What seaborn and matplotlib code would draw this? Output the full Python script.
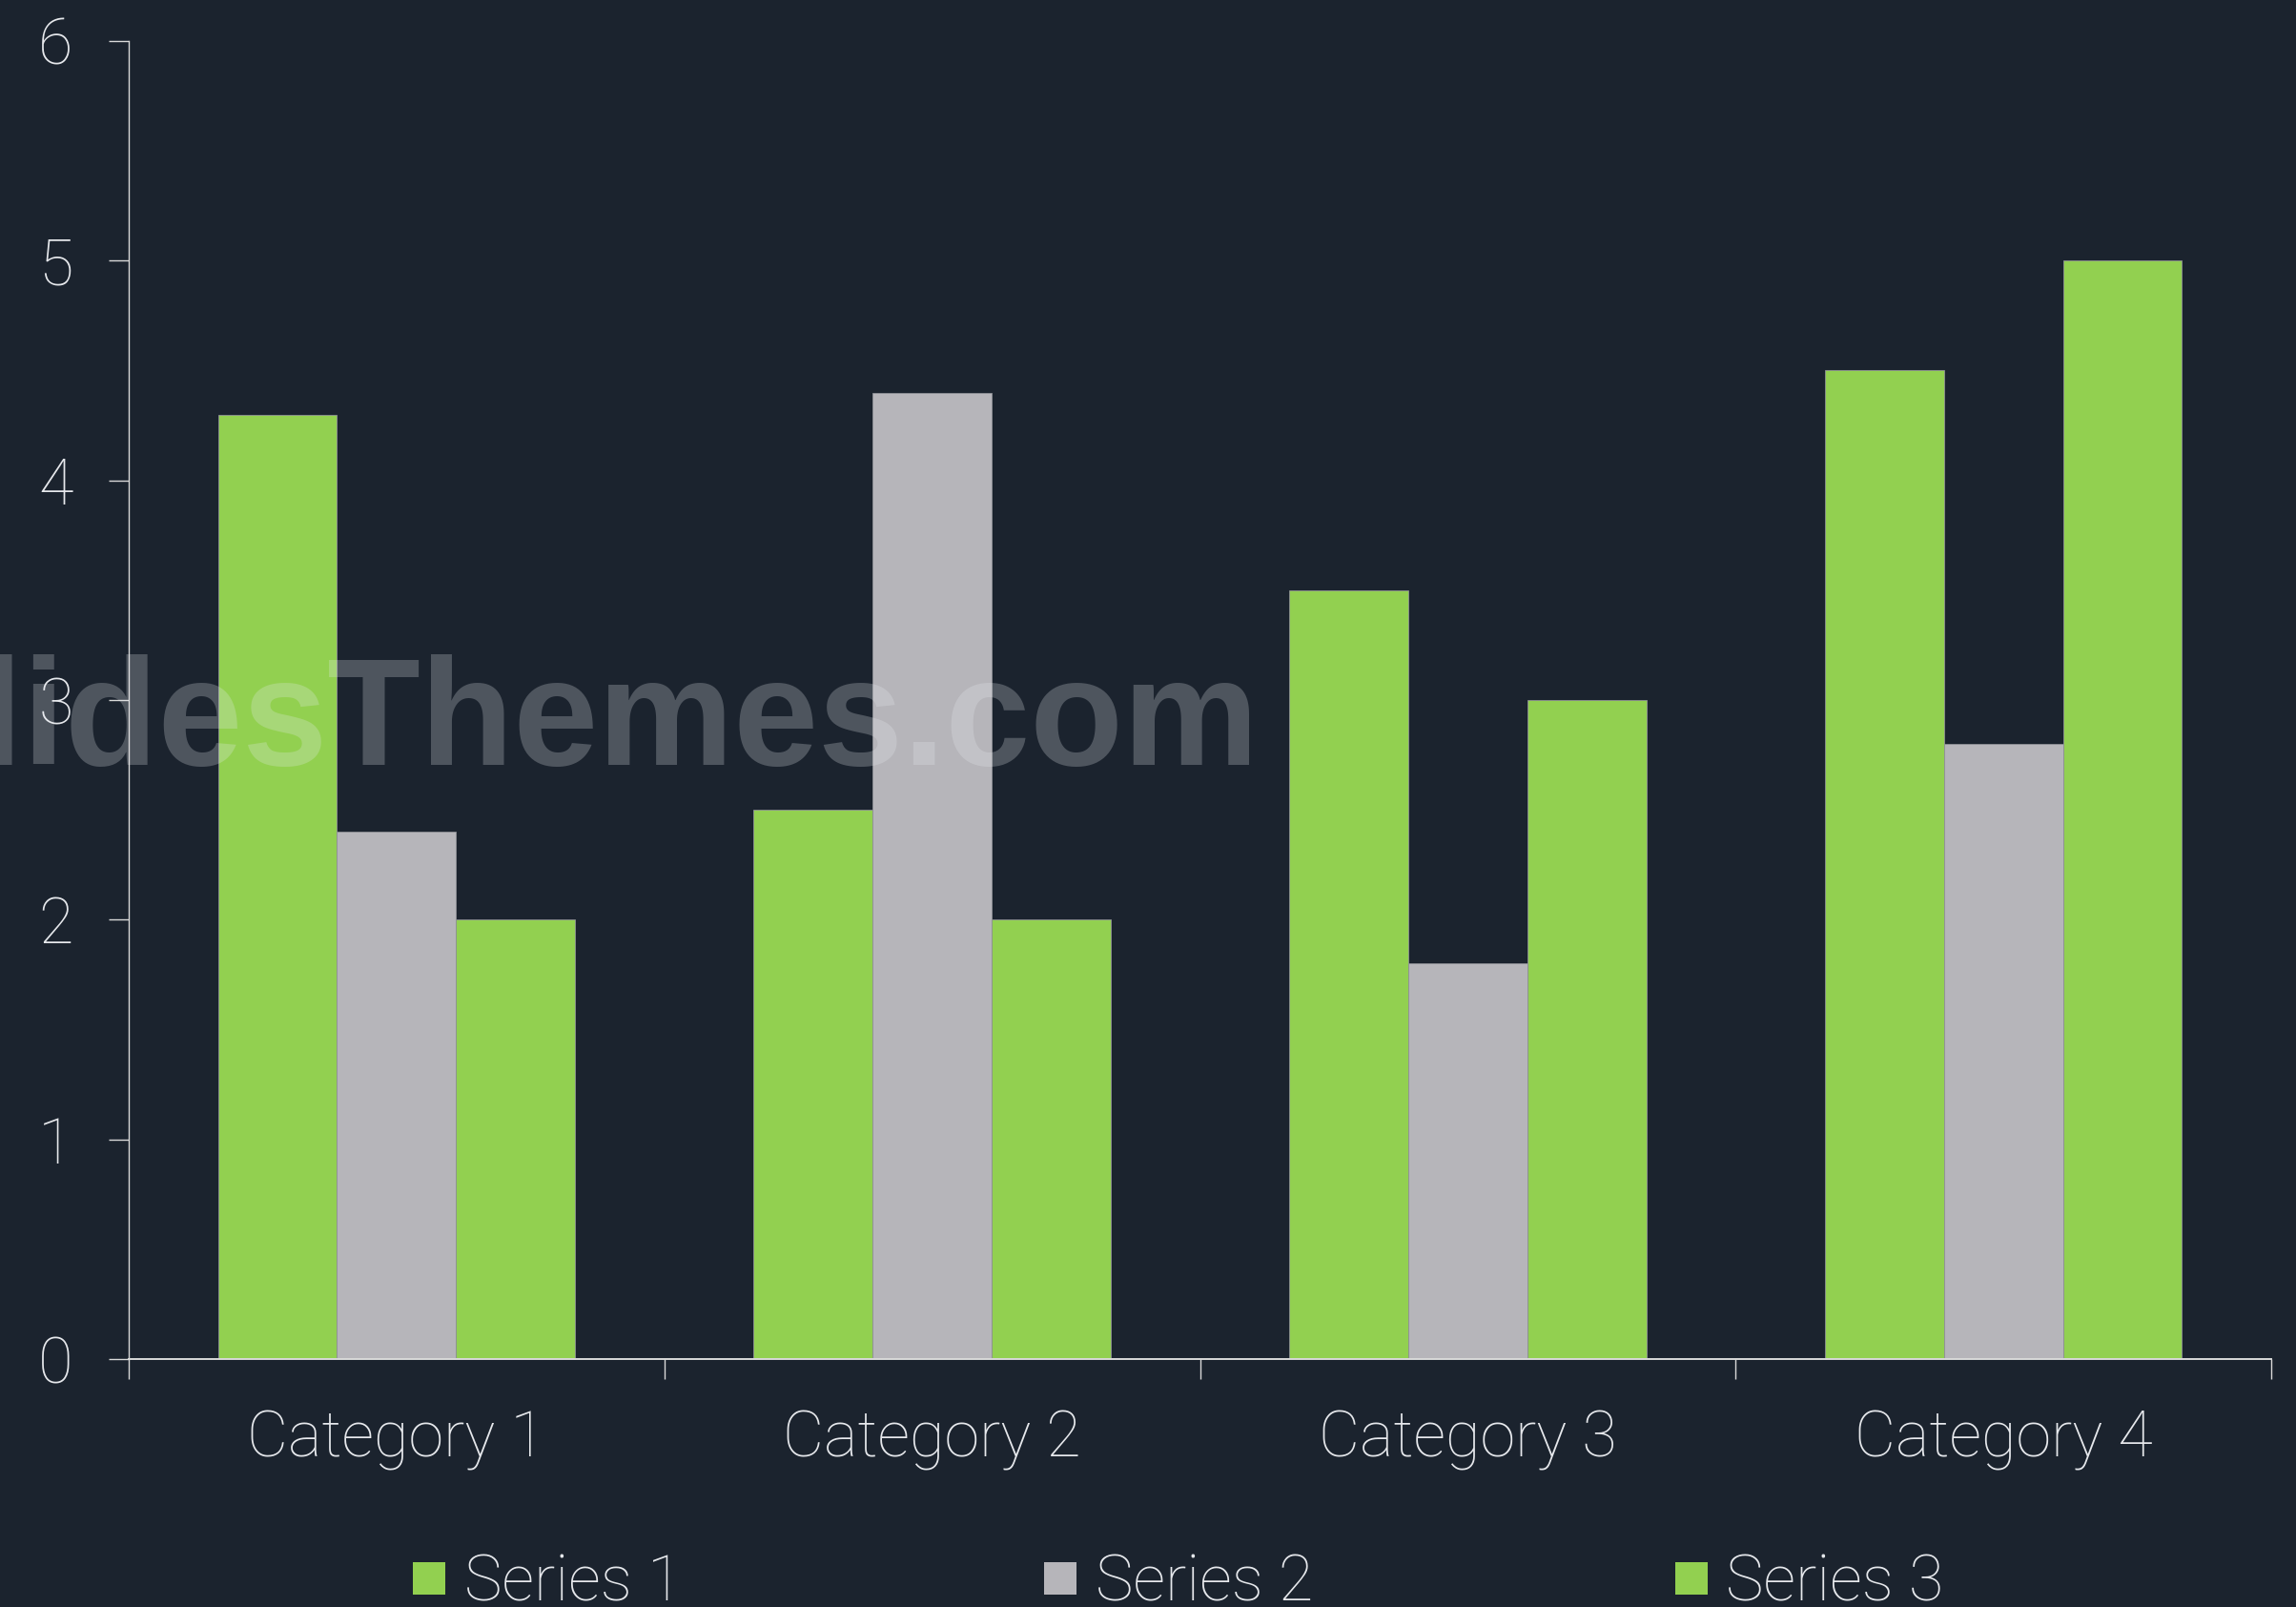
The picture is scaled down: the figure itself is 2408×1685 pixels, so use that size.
import pandas as pd
import matplotlib
matplotlib.use("Agg")
import matplotlib.pyplot as plt
from matplotlib.lines import Line2D
import seaborn as sns

# Chart data
categories = ["Category 1", "Category 2", "Category 3", "Category 4"]
series_names = ["Series 1", "Series 2", "Series 3"]
series_1 = [4.3, 2.5, 3.5, 4.5]
series_2 = [2.4, 4.4, 1.8, 2.8]
series_3 = [2.0, 2.0, 3.0, 5.0]
y_ticks = [0, 1, 2, 3, 4, 5, 6]

BG = "#1B232E"
GREEN = "#92D050"
GREY = "#B6B5BA"
TEXT = "#E6E8EC"
AXIS = "#D9D9D9"
palette = {"Series 1": GREEN, "Series 2": GREY, "Series 3": GREEN}

rows = []
for name, vals in zip(series_names, [series_1, series_2, series_3]):
    for cat, v in zip(categories, vals):
        rows.append({"category": cat, "series": name, "value": v})
df = pd.DataFrame(rows)

sns.set_style("ticks")
plt.rcParams["font.family"] = ["Roboto", "DejaVu Sans"]
plt.rcParams["font.weight"] = "light"

fig = plt.figure(figsize=(24.08, 16.85), dpi=100, facecolor=BG)
ax = fig.add_axes([135 / 2408, 1 - 1425 / 1685, (2382 - 135) / 2408, (1425 - 43) / 1685])
ax.set_facecolor(BG)

sns.barplot(data=df, x="category", y="value", hue="series", palette=palette,
            width=2 / 3, gap=0, saturation=1, errorbar=None, legend=False,
            edgecolor="#8f9096", linewidth=0.6, ax=ax)

ax.set_xlim(-0.5, 3.5)
ax.set_ylim(0, 6)
ax.set_yticks(y_ticks)
ax.set_yticklabels([str(t) for t in y_ticks])
ax.set_xlabel("")
ax.set_ylabel("")

for side in ["top", "right"]:
    ax.spines[side].set_visible(False)
ax.spines["left"].set_color(AXIS)
ax.spines["left"].set_linewidth(1.0)
ax.spines["bottom"].set_color(AXIS)
ax.spines["bottom"].set_linewidth(1.4)

ax.tick_params(axis="y", colors=AXIS, labelcolor=TEXT, length=15, width=1.0,
               labelsize=48, pad=27)
ax.tick_params(axis="x", which="major", length=0, labelcolor=TEXT,
               labelsize=48, pad=38)
ax.set_xticks([-0.5, 0.5, 1.5, 2.5, 3.5], minor=True)
ax.tick_params(axis="x", which="minor", length=15, width=1.0, color=AXIS)
for lab in ax.get_xticklabels() + ax.get_yticklabels():
    lab.set_fontweight("light")

# watermark
fig.text(1320 / 2408, 1 - 802 / 1685, "SlidesThemes.com", ha="right", va="baseline",
         fontsize=115, fontweight="bold", family=["Liberation Sans", "DejaVu Sans"],
         color="#E8ECF0", alpha=0.25, zorder=10)

handles = [Line2D([], [], marker="s", linestyle="", markersize=25,
                  markerfacecolor=palette[s], markeredgewidth=0) for s in series_names]
leg = fig.legend(handles, series_names, loc="center", ncol=3,
                 bbox_to_anchor=(1236 / 2408, 1 - 1660 / 1685),
                 frameon=False, fontsize=48, handlelength=0.5, handletextpad=0.3,
                 columnspacing=5.7, borderaxespad=0, borderpad=0)
for t in leg.get_texts():
    t.set_color(TEXT)
    t.set_fontweight("light")

fig.savefig("out.png", dpi=100, facecolor=BG)
